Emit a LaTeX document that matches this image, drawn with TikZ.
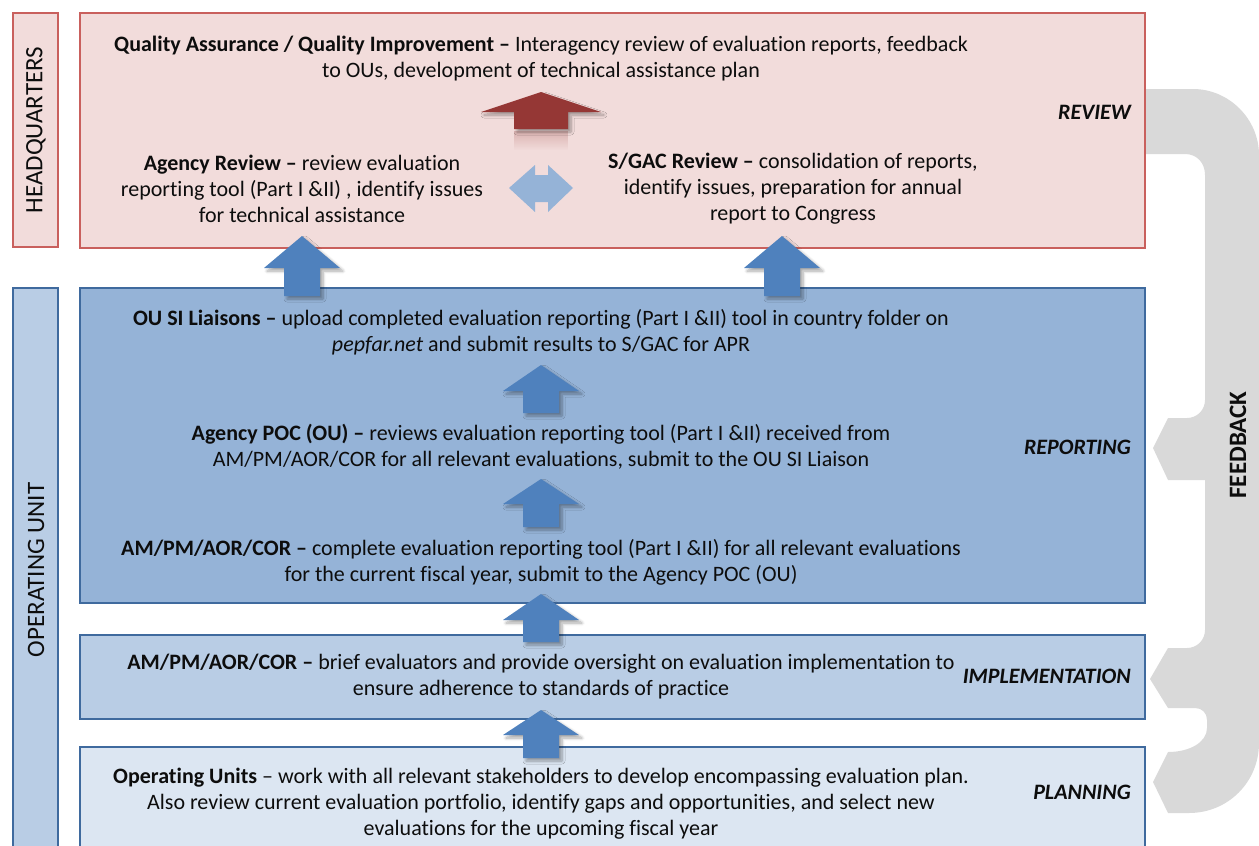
\documentclass[tikz,border=0pt]{standalone}
\usepackage{fontspec}
\setmainfont{Carlito}[Ligatures=CommonOff]
\usetikzlibrary{shadows.blur,fadings}
\definecolor{hqfill}{HTML}{F2DCDB}
\definecolor{hqline}{HTML}{C9605D}
\definecolor{repfill}{HTML}{95B3D7}
\definecolor{repline}{HTML}{3F6A9E}
\definecolor{impfill}{HTML}{B9CDE5}
\definecolor{planfill}{HTML}{DCE6F2}
\definecolor{arrblue}{HTML}{4F81BD}
\definecolor{arrred}{HTML}{953735}
\definecolor{dblarr}{HTML}{95B3D7}
\definecolor{fbgray}{HTML}{D9D9D9}
\definecolor{txtc}{HTML}{0D0D0D}

\begin{document}
\begin{tikzpicture}[x=1pt,y=-1pt,
  body/.style={font=\fontsize{22}{26}\selectfont, align=center, inner sep=0pt, text=txtc},
  stage/.style={font=\fontsize{22}{26}\selectfont\bfseries\itshape, anchor=east, inner sep=0pt, text=txtc},
  side/.style={font=\fontsize{25}{26}\selectfont, rotate=90, inner sep=0pt, text=txtc},
  redbox/.style={fill=hqfill, draw=hqline, line width=1.2pt},
  bluebox/.style={draw=repline, line width=1.2pt},
  arrshadow/.style={blur shadow={shadow xshift=3pt, shadow yshift=-3pt,
      shadow opacity=35, shadow blur steps=6, shadow blur radius=3pt}},
  % upward block arrow; #1 = depth of the head base below the tip, #2 = depth of the tail
  pics/blockup/.style 2 args={code={
    \fill[arrblue, arrshadow] (0,0) -- (38,#1) -- (18,#1) -- (18,#2)
      -- (-18,#2) -- (-18,#1) -- (-38,#1) -- cycle;
  }},
]
\useasboundingbox (0,0) rectangle (1259,846);

% level boxes
\draw[redbox] (13,13) rectangle (58,247) coordinate (hq);
\draw[bluebox, fill=impfill] (13,288) rectangle (58,860) coordinate (ou);
\draw[redbox] (80,13) rectangle (1145,248) coordinate (review);
\draw[bluebox, fill=repfill] (80,288) rectangle (1145,603) coordinate (reporting);
\draw[bluebox, fill=impfill] (80,635) rectangle (1145,719) coordinate (impl);
\draw[bluebox, fill=planfill] (80,747) rectangle (1145,860) coordinate (planning);

% feedback brace
\fill[fbgray] (1146,89) -- (1193,89) .. controls (1229,89) and (1259,119) .. (1259,155)
  -- (1259,743) .. controls (1259,782) and (1228,813) .. (1189,813)
  -- (1168,813) -- (1153,782) -- (1168,752)
  .. controls (1190,752) and (1207,742) .. (1207,728) -- (1207,720)
  .. controls (1207,713) and (1202,708) .. (1195,708)
  -- (1168,708) -- (1150,679) -- (1168,648) -- (1187,648)
  .. controls (1197,648) and (1205,640) .. (1205,630)
  -- (1205,480) -- (1168,480) -- (1153,448) -- (1168,418) -- (1187,418)
  .. controls (1197,418) and (1205,410) .. (1205,400)
  -- (1205,175) .. controls (1205,163) and (1197,154) .. (1185,154)
  -- (1146,154) -- cycle;

% red arrow towards quality assurance, with its faint reflection
\fill[arrred, opacity=0.25, path fading=south] (514,131) rectangle (568,150);
\fill[arrred, arrshadow] (541,92) -- (601,112) -- (568,112) -- (568,129)
  -- (514,129) -- (514,112) -- (481,112) -- cycle;

% two-way arrow between the reviews
\fill[dblarr] (509,188) -- (535,165) -- (535,175) -- (548,175) -- (548,165)
  -- (573,188) -- (548,212) -- (548,202) -- (535,202) -- (535,212) -- cycle;

% upward flow arrows
\pic at (302,236) {blockup={32}{60}};
\pic at (782,236) {blockup={32}{60}};
\pic at (541,365) {blockup={26}{48}};
\pic at (541,479) {blockup={25}{48}};
\pic at (541,594) {blockup={26}{48}};
\pic at (541,710) {blockup={25}{48}};

% side labels
\node[side] (hqlabel) at (36,130) {HEADQUARTERS};
\node[side] (oulabel) at (36,570) {OPERATING UNIT};
\node[side, font=\fontsize{25}{26}\selectfont\bfseries] (fblabel) at (1238,445) {FEEDBACK};

% stage labels
\node[stage] (lreview) at (1131,112) {REVIEW};
\node[stage] (lreporting) at (1131,447) {REPORTING};
\node[stage] (limpl) at (1131,676) {IMPLEMENTATION};
\node[stage] (lplanning) at (1131,792) {PLANNING};

% step descriptions
\node[body] (qa) at (541,59) {\textbf{Quality Assurance / Quality Improvement –} Interagency review of evaluation reports, feedback\\to OUs, development of technical assistance plan};
\node[body] (agrev) at (302,189) {\textbf{Agency Review –} review evaluation\\reporting tool (Part I \&II) , identify issues\\for technical assistance};
\node[body] (sgac) at (793,189) {\textbf{S/GAC Review –} consolidation of reports,\\identify issues, preparation for annual\\report to Congress};
\node[body] (ousi) at (541,332) {\textbf{OU SI Liaisons –} upload completed evaluation reporting (Part I \&II) tool in country folder on\\\textit{pepfar.net} and submit results to S/GAC for APR};
\node[body] (agpoc) at (541,447) {\textbf{Agency POC (OU) –} reviews evaluation reporting tool (Part I \&II) received from\\AM/PM/AOR/COR for all relevant evaluations, submit to the OU SI Liaison};
\node[body] (ampm) at (541,562) {\textbf{AM/PM/AOR/COR –} complete evaluation reporting tool (Part I \&II) for all relevant evaluations\\for the current fiscal year, submit to the Agency POC (OU)};
\node[body] (brief) at (541,677) {\textbf{AM/PM/AOR/COR –} brief evaluators and provide oversight on evaluation implementation to\\ensure adherence to standards of practice};
\node[body] (ouplan) at (541,804) {\textbf{Operating Units} – work with all relevant stakeholders to develop encompassing evaluation plan.\\Also review current evaluation portfolio, identify gaps and opportunities, and select new\\evaluations for the upcoming fiscal year};
\end{tikzpicture}
\end{document}
